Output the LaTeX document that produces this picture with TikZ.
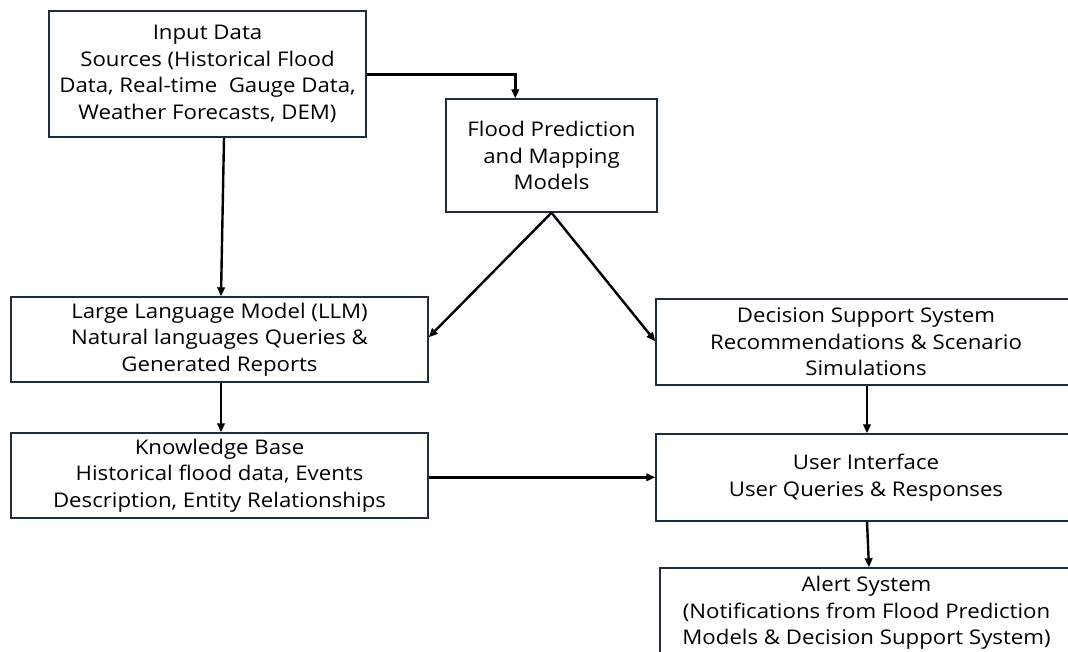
\documentclass[tikz,border=0pt]{standalone}
\usepackage{fontspec}
\setmainfont[FakeStretch=1.1]{Open Sans}
\usetikzlibrary{arrows.meta,calc}
\definecolor{boxline}{HTML}{1F2D3D}
\tikzset{
  box/.style={draw=boxline, line width=1.4pt, fill=white, align=center, inner sep=0pt,
    font=\fontsize{20.2}{26.5}\selectfont},
  conn/.style={line width=2.4pt, -{Triangle[length=9pt,width=7.5pt]}}
}
\begin{document}
\begin{tikzpicture}[x=1pt,y=-1pt]
\clip (0,0) rectangle (1068,651);
\fill[white] (0,0) rectangle (1068,651);
\node[box, minimum width=317pt, minimum height=126pt] (inp) at (207.5,74)
  {Input Data\\Sources (Historical Flood\\Data, Real-time\ \ Gauge Data,\\Weather Forecasts, DEM)};
\node[box, minimum width=211pt, minimum height=113pt] (flood) at (551.5,155.5)
  {Flood Prediction\\and Mapping\\Models};
\node[box, minimum width=417pt, minimum height=85pt] (llm) at (219.5,339.5)
  {Large Language Model (LLM)\\Natural languages Queries \&\\Generated Reports};
\node[box, minimum width=417pt, minimum height=85pt] (kb) at (219.5,475.5)
  {Knowledge Base\\Historical flood data, Events\\Description, Entity Relationships};
\node[box, minimum width=420pt, minimum height=86pt] (dss) at (866,342)
  {Decision Support System\\Recommendations \& Scenario\\Simulations};
\node[box, minimum width=420pt, minimum height=87pt] (ui) at (866,477.5)
  {User Interface\\User Queries \& Responses};
\node[box, minimum width=413pt, minimum height=90pt] (alert) at (866.5,613)
  {Alert System\\(Notifications from Flood Prediction\\Models \& Decision Support System)};
\coordinate (inpR) at ($(inp.north east)+(0,64)$);
\coordinate (floodT) at ($(flood.north west)+(70,0)$);
\draw[conn] (inpR) -| (floodT);
\draw[conn] ($(inp.south)+(16.5,0)$) -- ($(llm.north)+(1.5,0)$);
\draw[conn] (flood.south) -- ($(llm.north east)+(0,41)$);
\draw[conn] (flood.south) -- ($(dss.north west)+(0,43)$);
\draw[conn] ($(llm.south)+(1.5,0)$) -- ($(kb.north)+(1.5,0)$);
\draw[conn] ($(kb.north east)+(0,45)$) -- ($(ui.north west)+(0,44)$);
\draw[conn] ($(dss.south)+(1,0)$) -- ($(ui.north)+(1,0)$);
\draw[conn] ($(ui.south)+(1,0)$) -- ($(alert.north)+(2.5,0)$);
\end{tikzpicture}
\end{document}
